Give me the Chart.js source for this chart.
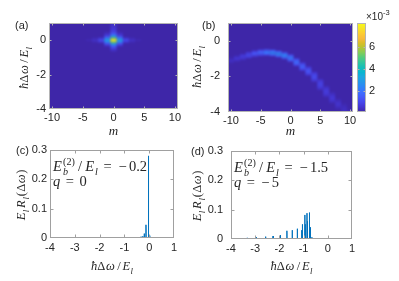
<!DOCTYPE html>
<html><head><meta charset="utf-8">
<script src="https://cdn.jsdelivr.net/npm/chart.js@4.4.1/dist/chart.umd.min.js"></script>
<style>
html,body{margin:0;padding:0;background:#fff;overflow:hidden}
#fig{position:relative;width:399px;height:281px;background:#fff}
#fig canvas{position:absolute;left:0;top:0}
</style></head><body>
<div id="fig">
<canvas id="pa" width="399" height="281"></canvas>
<canvas id="pb" width="399" height="281"></canvas>
<canvas id="pbar" width="399" height="281"></canvas>
<canvas id="pc" width="399" height="281"></canvas>
<canvas id="pd" width="399" height="281"></canvas>
</div>
<script>
/* ================= DATA ================= */
const mTicks = [-10, -5, 0, 5, 10];
const heatYTicks = [-4, -2, 0];
const specXTicks = [-4, -3, -2, -1, 0, 1];
const specYTicks = [0, 0.1, 0.2, 0.3];
const colorbarTicks = [2, 4, 6];
const colorRange = [0.09, 8.18];          // ×10^-3

// (a) columns m and the cells (ħΔω/E_l , value ×10^-3) brighter than background
const aColM = [-4, -3, -2, -1, 0, 1, 2, 3, 4];
const aColDw = [
  [0],
  [0.1, 0, -0.1],
  [0.1, 0, -0.1],
  [0.4, 0.3, 0.2, 0.1, 0, -0.1, -0.2, -0.3],
  [1.0, 0.9, 0.8, 0.7, 0.6, 0.5, 0.4, 0.3, 0.2, 0.1, 0, -0.1, -0.2, -0.3, -0.4, -0.5, -0.6],
  [0.4, 0.3, 0.2, 0.1, 0, -0.1, -0.2, -0.3],
  [0.1, 0, -0.1],
  [0.1, 0, -0.1],
  [0]
];
const aColVal = [
  [0.25],
  [0.25, 0.45, 0.25],
  [0.6, 1.1, 0.6],
  [0.4, 0.6, 1.3, 2.4, 3.2, 2.4, 1.3, 0.6],
  [0.5, 0.5, 0.55, 0.6, 0.7, 0.9, 1.3, 2.0, 3.4, 5.6, 8.1, 5.6, 3.4, 2.0, 1.2, 0.7, 0.4],
  [0.4, 0.6, 1.3, 2.4, 3.2, 2.4, 1.3, 0.6],
  [0.6, 1.1, 0.6],
  [0.25, 0.45, 0.25],
  [0.25]
];

// (b) arc: per m, centre ħΔω/E_l, peak value (×10^-3), row spacing
const bM      = [-10, -9, -8, -7, -6, -5, -4, -3, -2, -1, 0, 1, 2, 3, 4, 5, 6, 7, 8, 9, 10];
const bCentre = [-1.1, -1.0, -0.9, -0.8, -0.72, -0.67, -0.65, -0.68, -0.74, -0.83, -0.97, -1.2, -1.45, -1.7, -2.02, -2.45, -2.85, -3.2, -3.55, -3.82, -4.1];
const bPeak   = [0.4, 0.6, 0.8, 1.1, 1.4, 1.8, 2.2, 2.5, 2.6, 2.5, 2.2, 1.9, 1.6, 1.35, 1.15, 0.95, 0.8, 0.65, 0.5, 0.4, 0.3];
const bSpread = [0.07, 0.07, 0.07, 0.07, 0.07, 0.07, 0.07, 0.07, 0.07, 0.075, 0.08, 0.085, 0.09, 0.1, 0.11, 0.12, 0.12, 0.12, 0.12, 0.12, 0.12];
const bRowWeight = [0.5, 0.85, 1, 0.85, 0.5];

// (c) spectrum peaks
const cPeakPos    = [-0.33, -0.26, -0.2, -0.13, -0.03, 0.02];
const cPeakHeight = [0.004, 0.006, 0.015, 0.045, 0.28, 0.008];
// (d) spectrum peaks
const dPeakPos    = [-3.78, -3.33, -2.95, -2.57, -2.26, -1.96, -1.69, -1.47, -1.26, -1.08, -1.05, -0.95, -0.93, -0.86, -0.84, -0.77, -0.75, -0.72, -0.66];
const dPeakHeight = [0.003, 0.004, 0.006, 0.008, 0.01, 0.013, 0.028, 0.03, 0.035, 0.03, 0.05, 0.082, 0.05, 0.088, 0.06, 0.09, 0.07, 0.04, 0.006];

const cEb = '−0.2', cQ = '0';
const dEb = '−1.5', dQ = '−5';

/* ================= STYLE ================= */
const W = 399, H = 281;
const TXT = '#262626';
const TICK_FONT = {family: '"Liberation Sans", Arial, Helvetica, sans-serif', size: 11};
const SERIF = '"Liberation Serif", "Times New Roman", serif';
const LINE_BLUE = '#0072BD';
const SPIKE_HALF = 0.006;

const PARULA = [
  [0,[62,38,168]],[4,[69,55,213]],[7,[71,71,235]],[10,[71,88,248]],[14,[62,111,255]],
  [18,[46,135,247]],[21,[39,150,235]],[25,[28,169,223]],[28,[8,181,208]],[32,[25,191,182]],
  [35,[49,198,159]],[39,[87,204,122]],[42,[129,204,89]],[46,[185,196,49]],[49,[220,189,41]],
  [52,[248,186,61]],[56,[252,207,48]],[60,[245,233,36]],[63,[249,251,21]]
];
function parula(v){
  let t = (v - colorRange[0]) / (colorRange[1] - colorRange[0]);
  t = Math.max(0, Math.min(1, t)) * 63;
  for (let i = 1; i < PARULA.length; i++){
    if (t <= PARULA[i][0]){
      const [p0,c0] = PARULA[i-1], [p1,c1] = PARULA[i];
      const f = (t - p0) / (p1 - p0);
      return 'rgb(' + c0.map((c,k)=>Math.round(c + (c1[k]-c)*f)).join(',') + ')';
    }
  }
  return 'rgb(249,251,21)';
}

/* ---- rich (math-like) text ---- */
function fontStr(p, size){
  const s = (p.sub || p.sup) ? size*0.7 : size;
  return (p.i ? 'italic ' : '') + s.toFixed(2) + 'px ' + SERIF;
}
function layoutRich(ctx, parts, size){
  let x = 0, stackW = null, stackX = 0; const out = [];
  for (const p of parts){
    ctx.font = fontStr(p, size);
    const w = ctx.measureText(p.t).width;
    x += (p.pl||0)*size;
    if (stackW !== null){ out.push({p, x: stackX}); x = stackX + Math.max(stackW, w); stackW = null; }
    else if (p.stack){ out.push({p, x}); stackX = x; stackW = w; }
    else { out.push({p, x}); x += w; }
    x += (p.pr||0)*size;
  }
  return {items: out, width: x};
}
function drawRich(ctx, parts, x, y, size, align, angle){
  ctx.save(); ctx.translate(x, y); if (angle) ctx.rotate(angle);
  const L = layoutRich(ctx, parts, size);
  const x0 = align === 'center' ? -L.width/2 : 0;
  ctx.fillStyle = TXT; ctx.textBaseline = 'alphabetic'; ctx.textAlign = 'left';
  for (const it of L.items){
    ctx.font = fontStr(it.p, size);
    const dy = it.p.sub ? 0.28*size : (it.p.sup ? -0.42*size : 0);
    ctx.fillText(it.p.t, x0 + it.x, dy);
  }
  ctx.restore();
}
const LBL_DW = [{t:'ħ',i:1},{t:'Δ',pr:0.05},{t:'ω',i:1,pr:0.04},{t:'/',pl:0.15,pr:0.15},{t:'E',i:1,pr:0.03},{t:'l',i:1,sub:1}];
const LBL_R  = [{t:'E',i:1,pr:0.04},{t:'l',i:1,sub:1,pr:0.15},{t:'R',i:1,pr:0.06},{t:'l',i:1,sub:1},{t:'(',pl:0.06,pr:0.04},{t:'Δ',pr:0.04},{t:'ω',i:1,pr:0.04},{t:')'}];
const LBL_M  = [{t:'m',i:1}];
function annEbParts(val){
  const neg = val.startsWith('−');
  const parts = [{t:'E',i:1,pr:0.08},{t:'b',i:1,sub:1,stack:1},{t:'(2)',sup:1},{t:'/',pl:0.22,pr:0.22},{t:'E',i:1,pr:0.06},{t:'l',i:1,sub:1},{t:'=',pl:0.4,pr:0.4}];
  if (neg) parts.push({t:'−',pl:0.06,pr:0.16});
  parts.push({t: neg ? val.slice(1) : val});
  return parts;
}
function annQParts(val){
  const neg = val.startsWith('−');
  const parts = [{t:'q',i:1},{t:'=',pl:0.38,pr:0.38}];
  if (neg) parts.push({t:'−',pl:0.06,pr:0.16});
  parts.push({t: neg ? val.slice(1) : val});
  return parts;
}

/* ---- plugins ---- */
const heatPlugin = {
  id: 'heat',
  beforeDatasetsDraw(chart, args, o){
    const {ctx, chartArea: a, scales: {x, y}} = chart;
    const off = document.createElement('canvas'); off.width = W; off.height = H;
    const oc = off.getContext('2d');
    oc.fillStyle = parula(colorRange[0]);
    oc.fillRect(a.left-6, a.top-6, a.right-a.left+12, a.bottom-a.top+12);
    const cells = chart.data.datasets[0].data.slice().sort((p,q)=>p.v-q.v);
    for (const c of cells){
      const x0 = x.getPixelForValue(c.x-0.5), x1 = x.getPixelForValue(c.x+0.5);
      const y0 = y.getPixelForValue(c.y+c.h/2), y1 = y.getPixelForValue(c.y-c.h/2);
      oc.fillStyle = parula(c.v);
      oc.fillRect(x0, y0, x1-x0, y1-y0);
    }
    ctx.save();
    ctx.beginPath(); ctx.rect(a.left, a.top, a.right-a.left, a.bottom-a.top); ctx.clip();
    ctx.fillStyle = parula(colorRange[0]);
    ctx.fillRect(a.left, a.top, a.right-a.left, a.bottom-a.top);
    ctx.filter = 'blur(' + o.blur + 'px)';
    ctx.drawImage(off, 0, 0);
    ctx.restore();
  }
};
const barPlugin = {
  id: 'cbar',
  beforeDatasetsDraw(chart){
    const {ctx, chartArea: a, scales: {y}} = chart;
    ctx.save();
    for (let py = Math.floor(a.top); py < a.bottom; py++){
      ctx.fillStyle = parula(y.getValueForPixel(py+0.5));
      ctx.fillRect(a.left, py, a.right-a.left, 1);
    }
    ctx.restore();
  }
};
const boxPlugin = {
  id: 'box',
  afterDatasetsDraw(chart, args, o){
    const {ctx, chartArea: a, scales} = chart;
    const L = a.left+0.5, R = a.right-0.5, T = a.top+0.5, B = a.bottom-0.5;
    ctx.save(); ctx.strokeStyle = o.color; ctx.lineWidth = 1;
    ctx.beginPath();
    if (scales.x && scales.x.options.display !== false){
      for (const t of scales.x.ticks){
        const px = Math.round(scales.x.getPixelForValue(t.value))+0.5;
        if (px <= L+1 || px >= R-1) continue;
        ctx.moveTo(px, B); ctx.lineTo(px, B-o.len);
        ctx.moveTo(px, T); ctx.lineTo(px, T+o.len);
      }
    }
    for (const t of scales.y.ticks){
      const py = Math.round(scales.y.getPixelForValue(t.value))+0.5;
      if (py <= T+1 || py >= B-1) continue;
      ctx.moveTo(L, py); ctx.lineTo(L+o.len, py);
      ctx.moveTo(R, py); ctx.lineTo(R-o.len, py);
    }
    ctx.stroke();
    ctx.strokeRect(L, T, R-L, B-T);
    ctx.restore();
  }
};
const textPlugin = {
  id: 'texts',
  afterDraw(chart, args, o){
    const ctx = chart.ctx;
    for (const t of o.items){
      if (t.parts) drawRich(ctx, t.parts, t.x, t.y, t.size, t.align, t.angle);
      else {
        ctx.save(); ctx.font = t.font; ctx.fillStyle = TXT; ctx.textAlign = t.align||'left';
        ctx.textBaseline = 'alphabetic'; ctx.fillText(t.text, t.x, t.y); ctx.restore();
      }
    }
  }
};

/* ---- helpers ---- */
function linScale(o){
  return {
    type: 'linear', position: o.pos, min: o.min, max: o.max, display: o.display !== false,
    afterBuildTicks: s => { s.ticks = o.ticks.map(v => ({value: v})); },
    afterFit: s => { if (o.pos === 'bottom') s.height = o.size; else s.width = o.size; },
    ticks: {autoSkip: false, maxRotation: 0, minRotation: 0, padding: o.pad, color: TXT, font: TICK_FONT,
            callback: v => String(v)},
    grid: {display: false, drawTicks: false}, border: {display: false}
  };
}
function makeChart(id, area, datasets, scales, plugins, pluginOpts){
  const padding = {
    left: area.l - (area.yLeft || 0),
    top: area.t,
    right: W - area.r - (area.yRight || 0),
    bottom: H - area.b - (area.xH || 0)
  };
  return new Chart(document.getElementById(id), {
    type: 'scatter',
    data: {datasets},
    options: {
      responsive: false, animation: false, devicePixelRatio: 1, events: [],
      layout: {padding},
      plugins: Object.assign({legend: {display: false}, tooltip: {enabled: false}}, pluginOpts),
      scales
    },
    plugins
  });
}
function spectrum(pos, hgt){
  const idx = pos.map((p,i)=>i).sort((i,j)=>pos[i]-pos[j]);
  const pts = [{x: specXTicks[0], y: 0}];
  for (const i of idx){
    pts.push({x: pos[i]-SPIKE_HALF, y: 0}, {x: pos[i], y: hgt[i]}, {x: pos[i]+SPIKE_HALF, y: 0});
  }
  pts.push({x: specXTicks[specXTicks.length-1], y: 0});
  return pts;
}

/* ---- build cell tables ---- */
const aCells = [];
aColM.forEach((m, k) => aColDw[k].forEach((dw, j) => aCells.push({x: m, y: dw, h: 0.1, v: aColVal[k][j]})));
const bCells = [];
const bRowOffset = [-2, -1, 0, 1, 2];
bM.forEach((m, k) => bRowOffset.forEach((r, j) =>
  bCells.push({x: m, y: bCentre[k] + r*bSpread[k], h: bSpread[k], v: bPeak[k]*bRowWeight[j]})));

/* ---- panel (a) ---- */
const areaA = {l: 49, t: 23, r: 178, b: 109, yLeft: 30, xH: 20};
makeChart('pa', areaA,
  [{data: aCells, pointRadius: 0, showLine: false}],
  {
    x: linScale({pos:'bottom', min:-10.5, max:10.5, ticks:mTicks, size:20, pad:2}),
    y: linScale({pos:'left', min:-4, max:1, ticks:heatYTicks, size:30, pad:3})
  },
  [heatPlugin, boxPlugin, textPlugin],
  {heat: {blur: 1.0}, box: {color: '#b4b4b4', len: 2},
   texts: {items: [
     {text:'(a)', font:'11px "Liberation Sans", Arial, sans-serif', x:15, y:28.5},
     {parts: LBL_DW, x: 28, y: 68, size: 12.5, align: 'center', angle: -Math.PI/2},
     {parts: LBL_M, x: 113.5, y: 135, size: 13, align: 'center'}
   ]}}
);

/* ---- panel (b) ---- */
const areaB = {l: 228, t: 23, r: 353, b: 112, yLeft: 35, xH: 20};
makeChart('pb', areaB,
  [{data: bCells, pointRadius: 0, showLine: false}],
  {
    x: linScale({pos:'bottom', min:-10.5, max:10.5, ticks:mTicks, size:20, pad:2}),
    y: linScale({pos:'left', min:-4, max:1, ticks:heatYTicks, size:35, pad:8})
  },
  [heatPlugin, boxPlugin, textPlugin],
  {heat: {blur: 1.3}, box: {color: '#b4b4b4', len: 2},
   texts: {items: [
     {text:'(b)', font:'11px "Liberation Sans", Arial, sans-serif', x:202, y:28.5},
     {parts: LBL_DW, x: 201, y: 67, size: 12.5, align: 'center', angle: -Math.PI/2},
     {parts: LBL_M, x: 290.5, y: 135, size: 13, align: 'center'}
   ]}}
);

/* ---- colorbar ---- */
const areaBar = {l: 357, t: 23, r: 366, b: 112, yRight: 25};
makeChart('pbar', areaBar,
  [],
  {
    x: {type:'linear', display:false, min:0, max:1},
    y: linScale({pos:'right', min:colorRange[0], max:colorRange[1], ticks:colorbarTicks, size:25, pad:3})
  },
  [barPlugin, boxPlugin, textPlugin],
  {box: {color: '#b4b4b4', len: 2},
   texts: {items: [
     {text:'×10', font:'10px "Liberation Sans", Arial, sans-serif', x:366, y:20},
     {text:'-3', font:'7.5px "Liberation Sans", Arial, sans-serif', x:383, y:15}
   ]}}
);

/* ---- panel (c) ---- */
const areaC = {l: 50, t: 150, r: 174, b: 238, yLeft: 30, xH: 22};
makeChart('pc', areaC,
  [{data: spectrum(cPeakPos, cPeakHeight), showLine: true, pointRadius: 0, borderColor: LINE_BLUE, borderWidth: 1, tension: 0}],
  {
    x: linScale({pos:'bottom', min:-4, max:1, ticks:specXTicks, size:22, pad:3}),
    y: linScale({pos:'left', min:0, max:0.3, ticks:specYTicks, size:30, pad:3})
  },
  [boxPlugin, textPlugin],
  {box: {color: '#a0a0a0', len: 3},
   texts: {items: [
     {text:'(c)', font:'11px "Liberation Sans", Arial, sans-serif', x:16, y:154},
     {parts: LBL_R, x: 25, y: 195, size: 12.5, align: 'center', angle: -Math.PI/2},
     {parts: LBL_DW, x: 112, y: 270, size: 12.5, align: 'center'},
     {parts: annEbParts(cEb), x: 53, y: 171, size: 14.5, align: 'left'},
     {parts: annQParts(cQ), x: 53, y: 186, size: 14.5, align: 'left'}
   ]}}
);

/* ---- panel (d) ---- */
const areaD = {l: 231, t: 151, r: 352, b: 239, yLeft: 35, xH: 22};
makeChart('pd', areaD,
  [{data: spectrum(dPeakPos, dPeakHeight), showLine: true, pointRadius: 0, borderColor: LINE_BLUE, borderWidth: 1, tension: 0}],
  {
    x: linScale({pos:'bottom', min:-4, max:1, ticks:specXTicks, size:22, pad:3}),
    y: linScale({pos:'left', min:0, max:0.3, ticks:specYTicks, size:35, pad:8})
  },
  [boxPlugin, textPlugin],
  {box: {color: '#a0a0a0', len: 3},
   texts: {items: [
     {text:'(d)', font:'11px "Liberation Sans", Arial, sans-serif', x:191, y:155},
     {parts: LBL_R, x: 201, y: 196, size: 12.5, align: 'center', angle: -Math.PI/2},
     {parts: LBL_DW, x: 291.5, y: 270, size: 12.5, align: 'center'},
     {parts: annEbParts(dEb), x: 234, y: 172, size: 14.5, align: 'left'},
     {parts: annQParts(dQ), x: 234, y: 187, size: 14.5, align: 'left'}
   ]}}
);
</script>
</body></html>
